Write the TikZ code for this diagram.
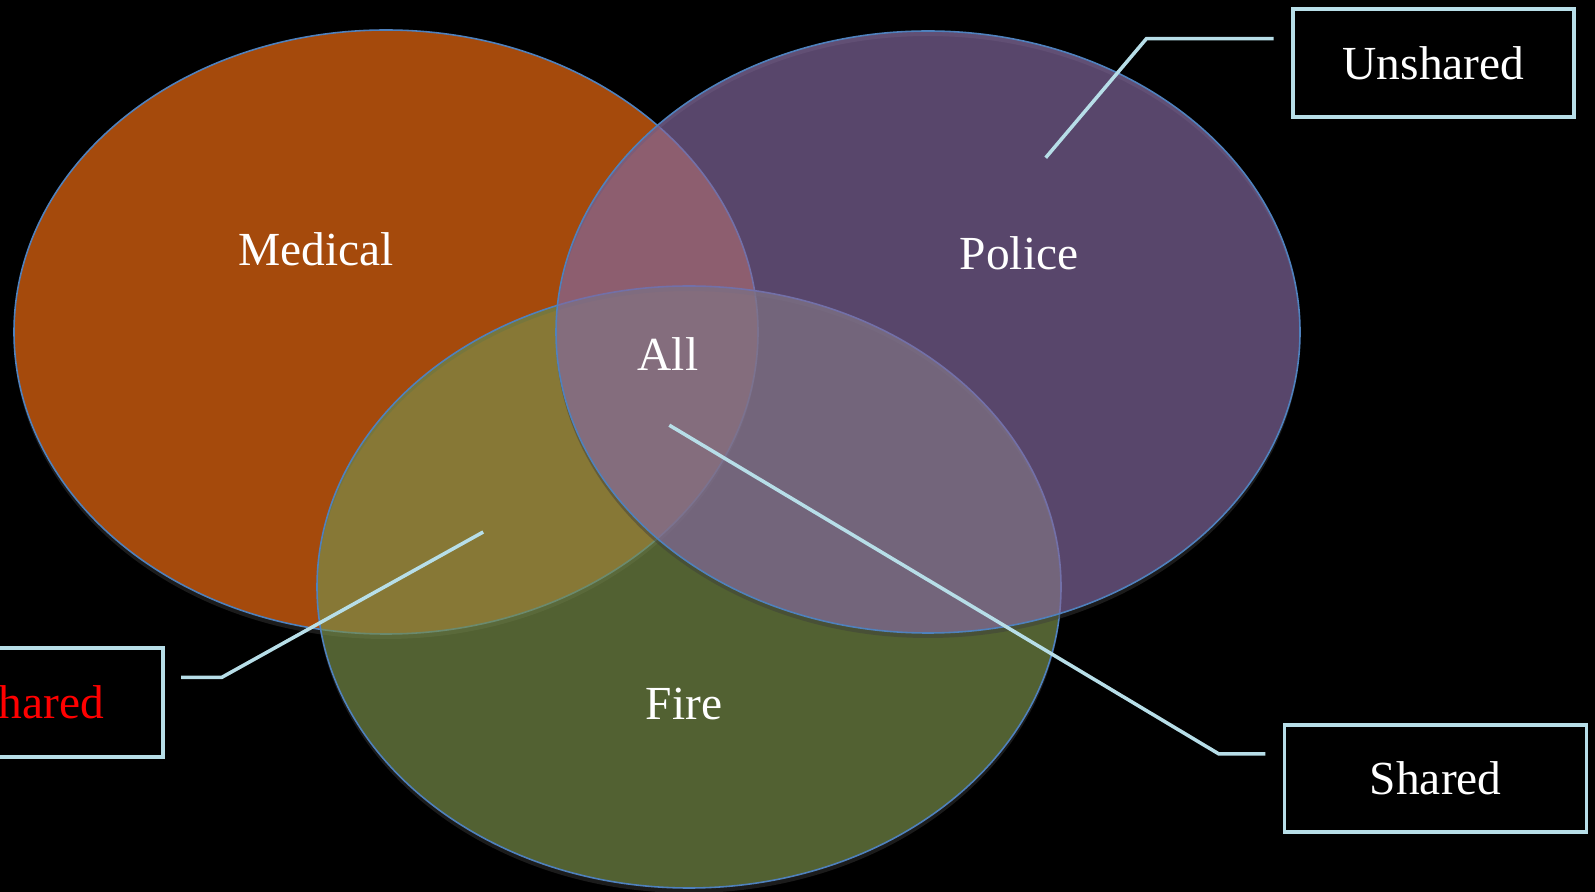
\documentclass[tikz,border=0pt]{standalone}
\usepackage{fontspec}
\setmainfont{Liberation Serif}
\definecolor{medicalorange}{RGB}{165,74,12}
\definecolor{firegreen}{RGB}{121,143,74}
\definecolor{policepurple}{RGB}{131,104,159}
\definecolor{rimblue}{RGB}{79,129,189}
\definecolor{leadercyan}{RGB}{183,222,232}
\definecolor{shadowgrey}{RGB}{60,60,60}

\begin{document}
\begin{tikzpicture}[x=0.1mm, y=-0.1mm,
  venn/.style={draw=rimblue, line width=0.45pt},
  vennshadow/.style={fill=shadowgrey, opacity=0.45, even odd rule},
  tag/.style={text=white, font=\fontsize{13.5}{16}\selectfont},
  labelbox/.style={draw=leadercyan, line width=1pt, fill=black, text=white,
    font=\fontsize{13.5}{16}\selectfont, inner sep=0pt},
  leader/.style={draw=leadercyan, line width=1pt}]
\useasboundingbox (0,0) rectangle (1595,892);
\fill[black] (0,0) rectangle (1595,892);
\clip (0,0) rectangle (1595,892);

% the three sets, each with a thin shadow rim below it
\fill[vennshadow] (386,337) ellipse [x radius=372, y radius=302]
  (386,332) ellipse [x radius=372, y radius=302];
\draw[venn, fill=medicalorange] (386,332) ellipse [x radius=372, y radius=302];
\fill[vennshadow] (689,592) ellipse [x radius=372, y radius=301]
  (689,587) ellipse [x radius=372, y radius=301];
\draw[venn, fill=firegreen, fill opacity=0.68] (689,587) ellipse [x radius=372, y radius=301];
\fill[vennshadow] (928,337) ellipse [x radius=372, y radius=301]
  (928,332) ellipse [x radius=372, y radius=301];
\draw[venn, fill=policepurple, fill opacity=0.68] (928,332) ellipse [x radius=372, y radius=301];

\node[tag] (medical) at (316,249) {Medical};
\node[tag] (police) at (1019,253) {Police};
\node[tag] (all) at (668,354) {All};
\node[tag] (fire) at (684,704) {Fire};

% callouts
\coordinate (unsharedFoot) at (1273.5,38.7);
\coordinate (unsharedBend) at (1146.4,38.7);
\coordinate (unsharedTip) at (1045.7,157.7);
\coordinate (sharedFoot) at (1265.4,753.8);
\coordinate (sharedBend) at (1218.6,753.8);
\coordinate (sharedTip) at (669.3,425.2);
\coordinate (partialFoot) at (181,677.4);
\coordinate (partialBend) at (221.7,677.4);
\coordinate (partialTip) at (483.2,532);
\draw[leader] (unsharedFoot) -- (unsharedBend) -- (unsharedTip);
\draw[leader] (sharedFoot) -- (sharedBend) -- (sharedTip);
\draw[leader] (partialFoot) -- (partialBend) -- (partialTip);

\node[labelbox, minimum width=28.1mm, minimum height=10.8mm] (unshared) at (1433.5,63) {Unshared};
\node[labelbox, minimum width=30.2mm, minimum height=10.7mm] (shared) at (1435.7,778.6) {Shared};
\node[labelbox, text=red, text width=20mm, align=right, inner xsep=5.9mm,
  minimum height=10.9mm, anchor=east] (partial) at (164.8,702.4) {hared};
\end{tikzpicture}
\end{document}
